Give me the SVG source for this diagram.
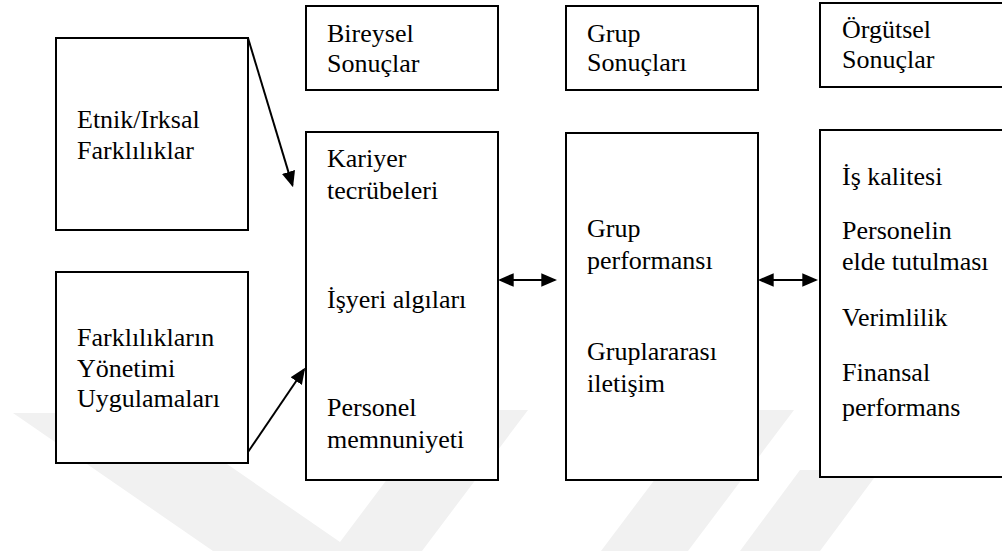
<svg xmlns="http://www.w3.org/2000/svg" width="1002" height="551" viewBox="0 0 1002 551">
<style>
.box{fill:#fff;stroke:#000;stroke-width:2}
.t{font-size:26px;fill:#000}
.c{stroke:#000;stroke-width:2;fill:none}
.wm{fill:#f1f1f1}
</style>
<defs>
<marker id="ah" markerUnits="userSpaceOnUse" markerWidth="16" markerHeight="14" viewBox="0 0 14 12" refX="12" refY="6" orient="auto-start-reverse">
<path d="M0,0 L14,6 L0,12 z" fill="#000"/>
</marker>
</defs>
<g id="watermark">
<polygon class="wm" points="13,413 153,413 340,542 439,410 528,410 422,551 213,551"/>
<polygon class="wm" points="707,410 794,410 688,551 601,551"/>
<polygon class="wm" points="800,470 880,470 820,551 740,551"/>
</g>
<g id="connectors">
<path class="c" d="M248,38 L292.4,185.1" marker-end="url(#ah)"/>
<path class="c" d="M248,452 L303.9,369.7" marker-end="url(#ah)"/>
<path class="c" d="M500,280 L555,280" marker-start="url(#ah)" marker-end="url(#ah)"/>
<path class="c" d="M760,280 L816,280" marker-start="url(#ah)" marker-end="url(#ah)"/>
</g>
<g font-family="'Liberation Serif', 'Times New Roman', 'DejaVu Serif', serif">
<g id="etnik">
<rect class="box" x="56" y="38" width="192" height="192"/>
<text class="t" x="77" y="128">Etnik/Irksal</text>
<text class="t" x="77" y="159">Farklılıklar</text>
</g>
<g id="yonetim">
<rect class="box" x="56" y="272" width="192" height="191"/>
<text class="t" x="77" y="346">Farklılıkların</text>
<text class="t" x="77" y="377">Yönetimi</text>
<text class="t" x="77" y="407">Uygulamaları</text>
</g>
<g id="bireysel">
<rect class="box" x="306" y="6" width="192" height="84"/>
<text class="t" x="327" y="42">Bireysel</text>
<text class="t" x="327" y="72">Sonuçlar</text>
</g>
<g id="bireysel-sonuclar">
<rect class="box" x="306" y="132" width="192" height="348"/>
<text class="t" x="327" y="167">Kariyer</text>
<text class="t" x="327" y="199">tecrübeleri</text>
<text class="t" x="327" y="308">İşyeri algıları</text>
<text class="t" x="327" y="416">Personel</text>
<text class="t" x="327" y="448">memnuniyeti</text>
</g>
<g id="grup">
<rect class="box" x="566" y="6" width="192" height="84"/>
<text class="t" x="587" y="42">Grup</text>
<text class="t" x="587" y="71">Sonuçları</text>
</g>
<g id="grup-sonuclar">
<rect class="box" x="566" y="133" width="192" height="347"/>
<text class="t" x="587" y="237">Grup</text>
<text class="t" x="587" y="269">performansı</text>
<text class="t" x="587" y="360">Gruplararası</text>
<text class="t" x="587" y="392">iletişim</text>
</g>
<g id="orgutsel">
<rect class="box" x="820" y="3" width="192" height="84"/>
<text class="t" x="842" y="38">Örgütsel</text>
<text class="t" x="842" y="68">Sonuçlar</text>
</g>
<g id="orgutsel-sonuclar">
<rect class="box" x="820" y="130" width="192" height="347"/>
<text class="t" x="842" y="185">İş kalitesi</text>
<text class="t" x="842" y="239">Personelin</text>
<text class="t" x="842" y="270">elde tutulması</text>
<text class="t" x="842" y="326">Verimlilik</text>
<text class="t" x="842" y="381">Finansal</text>
<text class="t" x="842" y="416">performans</text>
</g>
</g>
</svg>
